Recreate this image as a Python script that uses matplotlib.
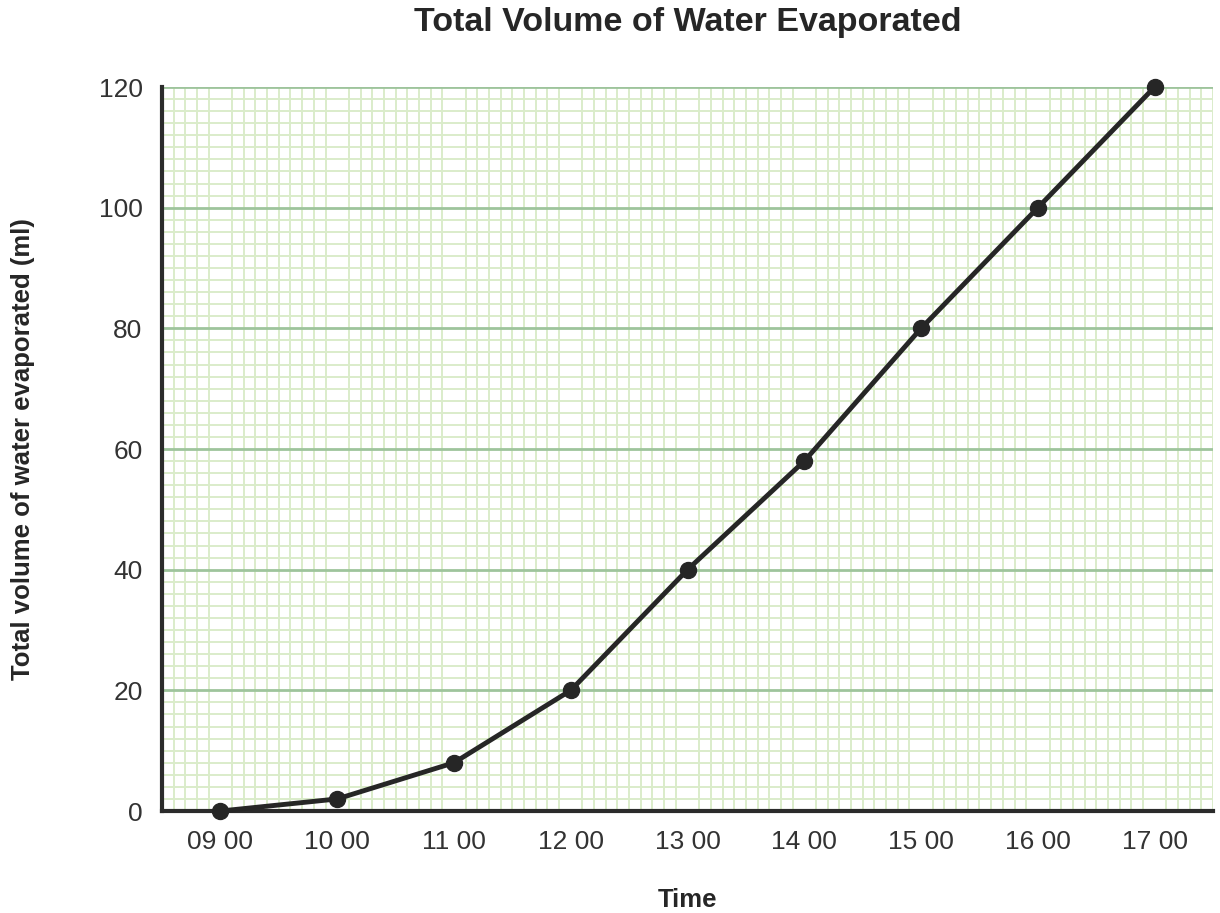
import matplotlib.pyplot as plt
import numpy as np
from matplotlib.ticker import MultipleLocator

plt.rcParams['font.family'] = ['Liberation Sans', 'DejaVu Sans']

times = ['09 00', '10 00', '11 00', '12 00', '13 00', '14 00', '15 00', '16 00', '17 00']
volume = [0, 2, 8, 20, 40, 58, 80, 100, 120]

fig = plt.figure(figsize=(12.2, 9.13), dpi=100)
ax = fig.add_axes([0.1328, 0.1117, 0.8615, 0.793])

x = np.arange(len(times))
ax.set_xlim(-0.5, len(times) - 0.5)
ax.set_ylim(0, 120)

# graph paper
ax.xaxis.set_minor_locator(MultipleLocator(0.1))
ax.yaxis.set_minor_locator(MultipleLocator(2))
ax.yaxis.set_major_locator(MultipleLocator(20))
ax.grid(which='minor', color='#daecca', linewidth=1.4)
ax.grid(which='major', axis='y', color='#9ec49c', linewidth=2)
ax.set_axisbelow(True)
ax.tick_params(which='minor', length=0)
ax.tick_params(which='major', length=0, labelsize=19, colors='#333333', pad=14)

ax.plot(x, volume, color='#262626', linewidth=3.5, marker='o', markersize=11.5,
        clip_on=False, zorder=5)

ax.set_xticks(x)
ax.set_xticklabels(times)

for s in ['top', 'right']:
    ax.spines[s].set_visible(False)
for s in ['left', 'bottom']:
    ax.spines[s].set_color('#2b2b2b')
    ax.spines[s].set_linewidth(3)

ax.set_title('Total Volume of Water Evaporated', fontsize=24.5, fontweight='bold',
             color='#262626', pad=40)
ax.set_xlabel('Time', fontsize=18.5, fontweight='bold', color='#262626', labelpad=24)
ax.set_ylabel('Total volume of water evaporated (ml)', fontsize=18.5, fontweight='bold',
              color='#262626', labelpad=46)

fig.savefig('out.png', dpi=100)
